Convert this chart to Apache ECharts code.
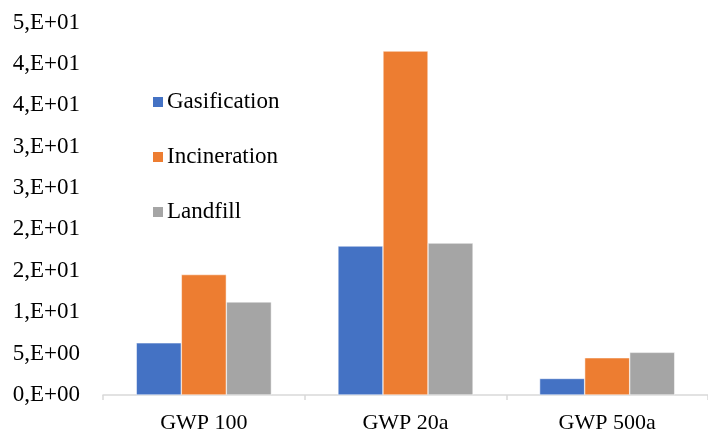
<!DOCTYPE html>
<html>
<head>
<meta charset="utf-8">
<script src="https://cdn.jsdelivr.net/npm/echarts@6/dist/echarts.min.js"></script>
<style>
html, body { margin: 0; padding: 0; background: #fff; }
#main { width: 708px; height: 434px; }
</style>
</head>
<body>
<div id="main"></div>
<script>
var categories = ['GWP 100', 'GWP 20a', 'GWP 500a'];
var gasification = [6.3, 18.0, 2.0];
var incineration = [14.55, 41.55, 4.5];
var landfill = [11.25, 18.35, 5.15];

var colors = ['#4472c4', '#ed7d31', '#a5a5a5'];
var fontFam = '"Liberation Serif", "Times New Roman", serif';

// Excel style "0,E+00"
function sciLabel(v) {
	if (v === 0) return '0,E+00';
	var e = Math.floor(Math.log10(v));
	var m = Math.round(v / Math.pow(10, e));
	if (m >= 10) { m = 1; e++; }
	var es = (e < 10 ? '0' : '') + e;
	return m + ',E+' + es;
}

function barSeries(name, data, i) {
	return {
		name: name,
		type: 'bar',
		data: data,
		barGap: '0%',
		barCategoryGap: '33%',
		itemStyle: { color: colors[i], borderColor: '#fff', borderWidth: 0.5 }
	};
}

var chart = echarts.init(document.getElementById('main'));
chart.setOption({
	animation: false,
	textStyle: { fontFamily: fontFam },
	legend: {
		orient: 'vertical',
		left: 146, top: 85.5,
		itemWidth: 12, itemHeight: 12,
		itemGap: 32,
		icon: 'rect',
		textStyle: { fontFamily: fontFam, fontSize: 23, lineHeight: 23, color: '#000', padding: [0, 0, 0, -2] },
		data: ['Gasification', 'Incineration', 'Landfill']
	},
	grid: { left: 103, right: -9, top: 22.5, bottom: 38.5, containLabel: false },
	xAxis: {
		type: 'category',
		data: categories,
		axisLine: { lineStyle: { color: '#d9d9d9', width: 1.5 } },
		axisTick: { show: true, length: 5, lineStyle: { color: '#d9d9d9', width: 1.5 } },
		axisLabel: { fontFamily: fontFam, fontSize: 22, color: '#000', margin: 17 }
	},
	yAxis: {
		type: 'value',
		min: 0, max: 45, interval: 5,
		axisLine: { show: false },
		axisTick: { show: false },
		splitLine: { show: false },
		axisLabel: { fontFamily: fontFam, fontSize: 23, color: '#000', margin: 23, formatter: sciLabel }
	},
	series: [
		barSeries('Gasification', gasification, 0),
		barSeries('Incineration', incineration, 1),
		barSeries('Landfill', landfill, 2)
	]
});
</script>
</body>
</html>
